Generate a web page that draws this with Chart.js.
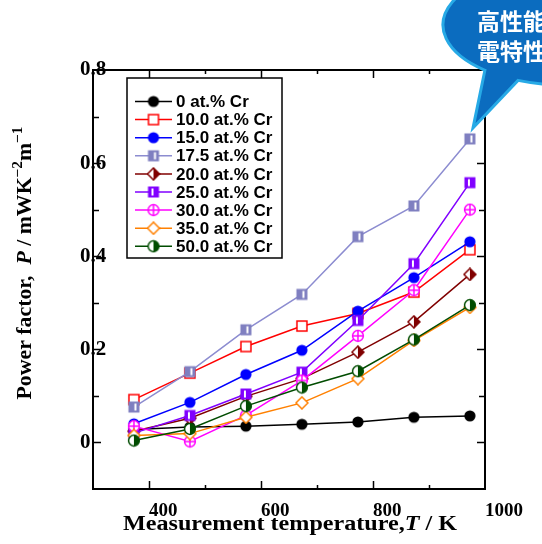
<!DOCTYPE html>
<html>
<head>
<meta charset="utf-8">
<title>Power factor vs temperature</title>
<script src="https://cdn.jsdelivr.net/npm/chart.js@4.4.1/dist/chart.umd.min.js"></script>
<style>
  html, body { margin: 0; padding: 0; background: #fff; }
  #wrap { width: 542px; height: 544px; }
</style>
</head>
<body>
<div id="wrap"><canvas id="canvas" width="542" height="544"></canvas></div>
<script>
// measurement temperatures (K)
var temps = [373, 473, 573, 673, 773, 873, 973];

var seriesLabels = ['0 at.% Cr', '10.0 at.% Cr', '15.0 at.% Cr', '17.5 at.% Cr', '20.0 at.% Cr',
                    '25.0 at.% Cr', '30.0 at.% Cr', '35.0 at.% Cr', '50.0 at.% Cr'];

// power factor, mW K^-2 m^-1
var cr0  = [0.028, 0.033, 0.035, 0.039, 0.044, 0.054, 0.057];
var cr10 = [0.092, 0.149, 0.206, 0.250, 0.277, 0.323, 0.414];
var cr15 = [0.040, 0.086, 0.146, 0.198, 0.282, 0.354, 0.431];
var cr17 = [0.076, 0.152, 0.242, 0.318, 0.442, 0.508, 0.652];
var cr20 = [0.024, 0.052, 0.099, 0.137, 0.194, 0.259, 0.361];
var cr25 = [0.020, 0.058, 0.104, 0.151, 0.262, 0.384, 0.558];
var cr30 = [0.035, 0.002, 0.058, 0.133, 0.229, 0.327, 0.500];
var cr35 = [0.015, 0.019, 0.054, 0.085, 0.137, 0.219, 0.290];
var cr50 = [0.004, 0.029, 0.078, 0.118, 0.153, 0.221, 0.295];

var xTickLabels = [400, 600, 800, 1000];
var yTickLabels = [0, 0.2, 0.4, 0.6, 0.8];
var xMajor = [400, 600, 800], xMinor = [500, 700, 900];
var yMajor = [0, 0.2, 0.4, 0.6], yMinor = [0.1, 0.3, 0.5, 0.7];

var allSeries = [cr0, cr10, cr15, cr17, cr20, cr25, cr30, cr35, cr50];
var lineColors = ['#000000', '#ff0000', '#0000ff', '#8c8cd0', '#800000', '#8000ff', '#ff00ff', '#ff8000', '#004c00'];
var markerKinds = ['dot', 'openSquare', 'dot', 'barSquare', 'halfDiamond', 'barSquareL', 'crossCircle', 'openDiamond', 'halfCircle'];

var SERIF = '"Liberation Serif", "Times New Roman", serif';
var SANS = '"Liberation Sans", Arial, sans-serif';

function marker(kind, col) {
  var c = document.createElement('canvas');
  c.width = 14; c.height = 14;
  var g = c.getContext('2d');
  g.lineWidth = 1.5;
  g.strokeStyle = col;
  g.fillStyle = col;
  if (kind == 'dot') {
    g.beginPath(); g.arc(7, 7, 5.6, 0, Math.PI * 2); g.fill();
  } else if (kind == 'openSquare') {
    g.fillStyle = '#fff'; g.fillRect(2, 2, 10, 10);
    g.strokeRect(2, 2, 10, 10);
  } else if (kind == 'barSquare' || kind == 'barSquareL') {
    g.fillStyle = kind == 'barSquare' ? '#7f7fc0' : col;
    g.fillRect(1.5, 1.5, 11, 11);
    g.fillStyle = '#fff';
    if (kind == 'barSquare') g.fillRect(7.5, 3.5, 2, 7);
    else g.fillRect(5, 3.5, 2, 7);
  } else if (kind == 'halfDiamond' || kind == 'openDiamond') {
    g.beginPath(); g.moveTo(7, 1); g.lineTo(13, 7); g.lineTo(7, 13); g.lineTo(1, 7); g.closePath();
    g.fillStyle = '#fff'; g.fill();
    if (kind == 'halfDiamond') {
      g.fillStyle = col;
      g.beginPath(); g.moveTo(7, 1); g.lineTo(13, 7); g.lineTo(7, 13); g.closePath(); g.fill();
    }
    g.beginPath(); g.moveTo(7, 1); g.lineTo(13, 7); g.lineTo(7, 13); g.lineTo(1, 7); g.closePath();
    g.stroke();
  } else if (kind == 'crossCircle') {
    g.beginPath(); g.arc(7, 7, 5.4, 0, Math.PI * 2);
    g.fillStyle = '#fff'; g.fill(); g.stroke();
    g.beginPath(); g.moveTo(7, 1); g.lineTo(7, 13); g.moveTo(1, 7); g.lineTo(13, 7); g.stroke();
  } else if (kind == 'halfCircle') {
    g.beginPath(); g.arc(7, 7, 5.4, 0, Math.PI * 2);
    g.fillStyle = '#fff'; g.fill();
    g.fillStyle = col;
    g.beginPath(); g.arc(7, 7, 5.4, -Math.PI / 2, Math.PI / 2); g.closePath(); g.fill();
    g.beginPath(); g.arc(7, 7, 5.4, 0, Math.PI * 2); g.stroke();
  }
  return c;
}

var markers = markerKinds.map(function (k, i) { return marker(k, lineColors[i]); });

var datasets = allSeries.map(function (s, i) {
  return {
    label: seriesLabels[i],
    data: temps.map(function (t, j) { return { x: t, y: s[j] }; }),
    borderColor: lineColors[i],
    backgroundColor: lineColors[i],
    borderWidth: 1.5,
    pointStyle: markers[i],
    pointRadius: 7,
    pointHoverRadius: 7,
    tension: 0,
    order: 9 - i
  };
});

// draws a run of text pieces, stretched to a target width
function richText(ctx, parts, cx, cy, angle, width) {
  ctx.save();
  var total = 0;
  parts.forEach(function (p) { ctx.font = p.font; p.w = ctx.measureText(p.t).width; total += p.w; });
  ctx.translate(cx, cy);
  ctx.rotate(angle);
  ctx.scale(width / total, 1);
  ctx.fillStyle = '#000';
  ctx.textBaseline = 'alphabetic';
  ctx.textAlign = 'left';
  var x = -total / 2;
  parts.forEach(function (p) { ctx.font = p.font; ctx.fillText(p.t, x, p.dy || 0); x += p.w; });
  ctx.restore();
}

var decor = {
  id: 'decor',
  afterDraw: function (chart) {
    var ctx = chart.ctx, a = chart.chartArea;
    var xs = chart.scales.x, ys = chart.scales.y;
    ctx.save();
    // frame
    ctx.strokeStyle = '#000';
    ctx.lineWidth = 2;
    ctx.strokeRect(a.left, a.top, a.right - a.left, a.bottom - a.top);
    ctx.lineWidth = 1.5;
    ctx.beginPath();
    function xt(list, len) {
      list.forEach(function (v) {
        var px = Math.round(xs.getPixelForValue(v)) + 0.5;
        ctx.moveTo(px, a.bottom); ctx.lineTo(px, a.bottom - len);
        ctx.moveTo(px, a.top); ctx.lineTo(px, a.top + len);
      });
    }
    function yt(list, len) {
      list.forEach(function (v) {
        var py = Math.round(ys.getPixelForValue(v)) + 0.5;
        ctx.moveTo(a.left, py); ctx.lineTo(a.left + len, py);
        ctx.moveTo(a.right, py); ctx.lineTo(a.right - len, py);
      });
    }
    xt(xMajor, 8); xt(xMinor, 4);
    yt(yMajor, 8); yt(yMinor, 6);
    ctx.stroke();

    // legend
    var lx = 127, ly = 78, lw = 155, lh = 180;
    ctx.fillStyle = '#fff';
    ctx.fillRect(lx, ly, lw, lh);
    ctx.lineWidth = 1.5;
    ctx.strokeStyle = '#000';
    ctx.strokeRect(lx, ly, lw, lh);
    ctx.font = 'bold 17px ' + SANS;
    ctx.textBaseline = 'middle';
    ctx.textAlign = 'left';
    chart.data.datasets.forEach(function (ds, i) {
      var y = 101.5 + i * 18.1;
      ctx.strokeStyle = ds.borderColor;
      ctx.lineWidth = 1.5;
      ctx.beginPath(); ctx.moveTo(135, y); ctx.lineTo(172, y); ctx.stroke();
      ctx.drawImage(ds.pointStyle, 153.5 - 7, y - 7);
      ctx.fillStyle = '#000';
      ctx.fillText(ds.label, 176, y + 1);
    });

    // axis titles
    richText(ctx, [
      { t: 'Measurement temperature,', font: 'bold 20px ' + SERIF },
      { t: 'T', font: 'italic bold 20px ' + SERIF },
      { t: ' / K', font: 'bold 20px ' + SERIF }
    ], 290, 530, 0, 334);
    richText(ctx, [
      { t: 'Power factor,  ', font: 'bold 20px ' + SERIF },
      { t: 'P', font: 'italic bold 20px ' + SERIF },
      { t: ' / mWK', font: 'bold 20px ' + SERIF },
      { t: '\u22122', font: 'bold 14px ' + SERIF, dy: -9 },
      { t: 'm', font: 'bold 20px ' + SERIF },
      { t: '\u22121', font: 'bold 14px ' + SERIF, dy: -9 }
    ], 31, 263, -Math.PI / 2, 273);

    // speech bubble in the corner
    var cx = 565, cy = 25, rx = 122, ry = 60;
    ctx.beginPath();
    ctx.ellipse(cx, cy, rx, ry, 0, 1.966, 2.287, true);
    ctx.lineTo(473, 128);
    ctx.closePath();
    ctx.fillStyle = '#0b6cbf';
    ctx.fill();
    ctx.lineWidth = 3;
    ctx.strokeStyle = '#27aae6';
    ctx.stroke();
    ctx.fillStyle = '#fff';
    ctx.font = 'bold 23px "Noto Sans CJK JP"';
    ctx.textBaseline = 'alphabetic';
    ctx.fillText('高性能', 477, 30);
    ctx.fillText('電特性', 477, 60);
    ctx.restore();
  }
};

new Chart(document.getElementById('canvas').getContext('2d'), {
  type: 'line',
  data: { datasets: datasets },
  options: {
    responsive: false,
    animation: false,
    events: [],
    layout: { padding: { left: 0, top: 70, right: 57, bottom: 0 } },
    plugins: { legend: { display: false }, tooltip: { enabled: false } },
    scales: {
      x: {
        type: 'linear', min: 300, max: 1000,
        grid: { display: false, drawTicks: false },
        border: { display: false },
        afterBuildTicks: function (s) { s.ticks = xTickLabels.map(function (v) { return { value: v }; }); },
        afterFit: function (s) { s.height = 55; },
        ticks: {
          autoSkip: false, maxRotation: 0, align: 'start', padding: 11,
          color: '#000', font: { family: SERIF, size: 19, weight: 'bold' },
          callback: function (v) { return String(v); }
        }
      },
      y: {
        type: 'linear', min: -0.1, max: 0.8,
        grid: { display: false, drawTicks: false },
        border: { display: false },
        afterBuildTicks: function (s) { s.ticks = yTickLabels.map(function (v) { return { value: v }; }); },
        afterFit: function (s) { s.width = 93; },
        ticks: {
          mirror: true, padding: -13,
          color: '#000', font: { family: SERIF, size: 21, weight: 'bold' },
          callback: function (v) { return String(v); }
        }
      }
    }
  },
  plugins: [decor]
});
</script>
</body>
</html>
